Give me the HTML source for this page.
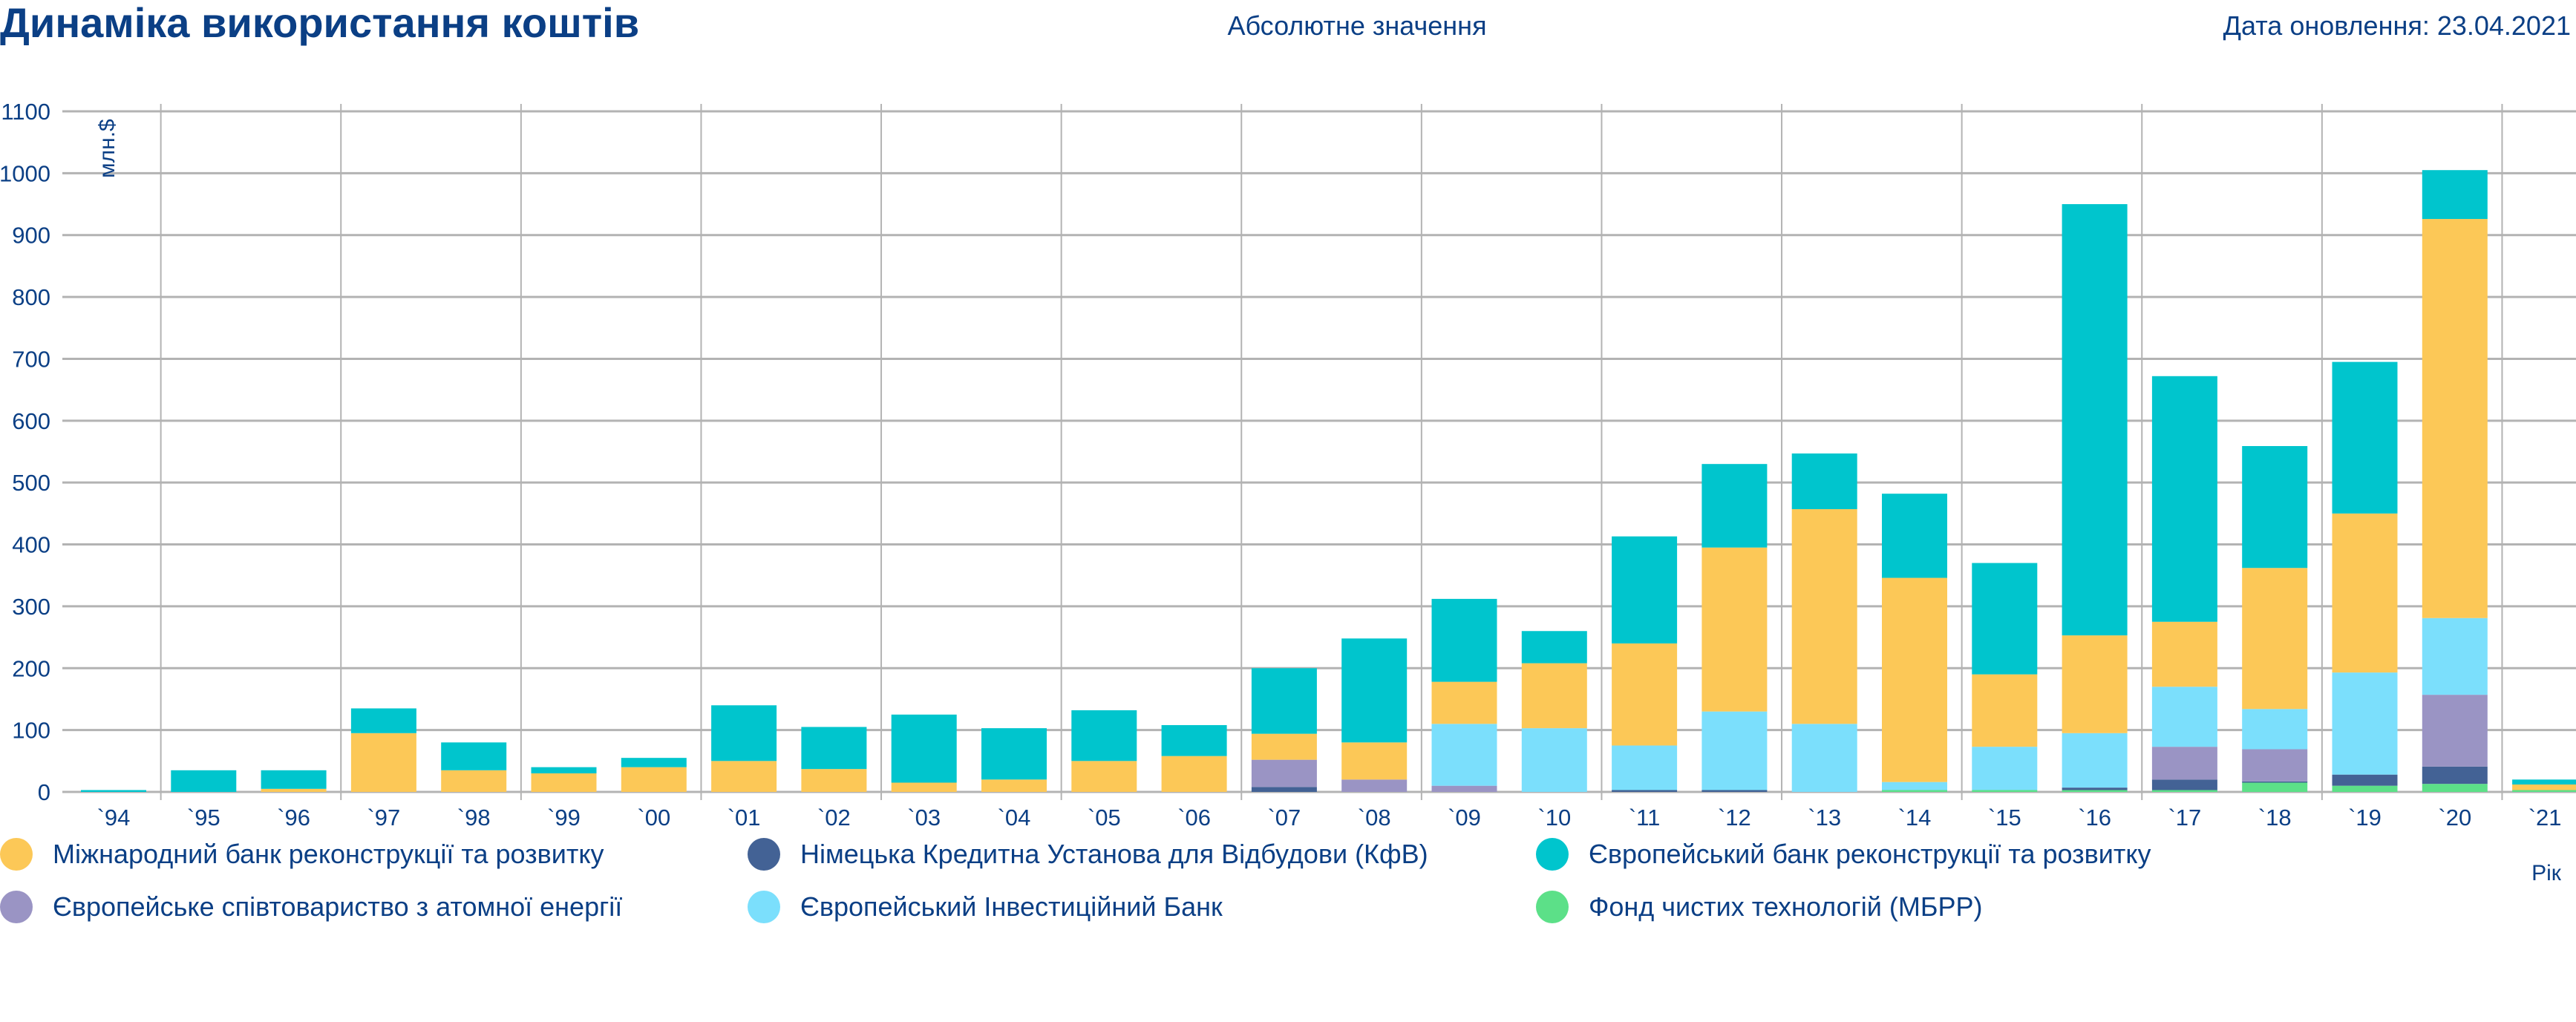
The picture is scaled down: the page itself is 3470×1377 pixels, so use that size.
<!DOCTYPE html>
<html><head><meta charset="utf-8"><style>
html,body{margin:0;padding:0;background:#fff;}
body{width:3470px;height:1372px;overflow:hidden;font-family:"Liberation Sans","Noto Sans CJK SC",sans-serif;}
</style></head><body>
<svg id="chart" width="3470" height="1372" xmlns="http://www.w3.org/2000/svg" font-family="Liberation Sans, Noto Sans CJK SC, sans-serif">
<text x="0" y="50" font-size="56" font-weight="bold" fill="#0b3f85">Динаміка використання коштів</text>
<text x="1828" y="47" font-size="36" fill="#0b3f85" text-anchor="middle">Абсолютне значення</text>
<text x="3463" y="47" font-size="36" fill="#0b3f85" text-anchor="end">Дата оновлення: 23.04.2021</text>
<g id="grid"></g>
<g id="bars"></g>
<g id="axes"></g>
<text transform="translate(154,240) rotate(-90)" font-size="30" fill="#0b3f85">млн.$</text>
<text x="3430" y="1186" font-size="30" fill="#0b3f85" text-anchor="middle">Рік</text>
<g id="legend"></g>
</svg>
<script>
const categories=["`94","`95","`96","`97","`98","`99","`00","`01","`02","`03","`04","`05","`06","`07","`08","`09","`10","`11","`12","`13","`14","`15","`16","`17","`18","`19","`20","`21"];
const seriesNames=["Фонд чистих технологій (МБРР)","Німецька Кредитна Установа для Відбудови (КфВ)","Європейське співтовариство з атомної енергії","Європейський Інвестиційний Банк","Міжнародний банк реконструкції та розвитку","Європейський банк реконструкції та розвитку"];
const seriesColors=["#5ce088","#436295","#9a94c4","#7bdffc","#fcc857","#00c5cd"];
const greenVals =[0,0,0,0,0,0,0,0,0,0,0,0,0,0,0,0,0,0,0,0,3,3,3,3,15,10,13,3];
const kfwVals   =[0,0,0,0,0,0,0,0,0,0,0,0,0,8,0,0,0,3,3,0,0,0,4,17,2,18,28,0];
const euratomVals=[0,0,0,0,0,0,0,0,0,0,0,0,0,44,20,10,0,0,0,0,0,0,0,53,52,0,116,0];
const eibVals   =[0,0,0,0,0,0,0,0,0,0,0,0,0,0,0,100,103,72,127,110,13,70,88,97,65,165,124,0];
const ibrdVals  =[0,0,5,95,35,30,40,50,37,15,20,50,58,42,60,68,105,165,265,347,330,117,158,105,228,257,645,9];
const ebrdVals  =[3,35,30,40,45,10,15,90,68,110,83,82,50,106,168,134,52,173,135,90,136,180,697,397,197,245,79,8];
const yTicks=[0,100,200,300,400,500,600,700,800,900,1000,1100];
const series=[greenVals,kfwVals,euratomVals,eibVals,ibrdVals,ebrdVals];
const NS="http://www.w3.org/2000/svg";
const y0=1067,yTop=150,yMax=1100;
function yScale(v){return y0-(v/yMax)*(y0-yTop);}
const step=121.3,x0=153,barW=88;
function xScale(i){return x0+i*step;}
function mk(tag,attrs,parent){const e=document.createElementNS(NS,tag);for(const k in attrs)e.setAttribute(k,attrs[k]);parent.appendChild(e);return e;}
const grid=document.getElementById('grid'),bars=document.getElementById('bars'),axes=document.getElementById('axes'),legend=document.getElementById('legend');
yTicks.forEach(t=>{
  const l=mk('line',{x1:84,x2:3470,y1:yScale(t),y2:yScale(t),stroke:'#b3b3b3','stroke-width':3},grid);
  
  
  const tx=mk('text',{x:68,y:yScale(t)+11,'font-size':31,fill:'#0b3f85','text-anchor':'end'},axes);
  tx.textContent=t;
  
  
});
for(let i=0;i<categories.length;i+=2){
  const x=(xScale(i)+xScale(i+1))/2+3;
  const l=mk('line',{x1:x,x2:x,y1:140,y2:1078,stroke:'#b3b3b3','stroke-width':2},grid);
  
  
}
categories.forEach((c,i)=>{
  let acc=0;
  series.forEach((s,k)=>{
    const v=s[i];if(!v)return;
    const r=mk('rect',{x:xScale(i)-barW/2,y:yScale(acc+v),width:barW,height:yScale(acc)-yScale(acc+v),fill:seriesColors[k]},bars);
    
    
    acc+=v;
  });
  const t=mk('text',{x:xScale(i),y:1112,'font-size':31,fill:'#0b3f85','text-anchor':'middle'},axes);
  t.textContent=c;
  
  
});
const legendOrder=[4,1,5,2,3,0];
const lx=[22,1029,2091],ly=[1151,1222];
legendOrder.forEach((k,j)=>{
  const col=j%3,row=Math.floor(j/3);
  const g=mk('g',{},legend);
  
  
  mk('circle',{cx:lx[col],cy:ly[row],r:22,fill:seriesColors[k]},g);
  const t=mk('text',{x:lx[col]+49,y:ly[row]+12,'font-size':36,fill:'#0b3f85'},g);
  t.textContent=seriesNames[k];
});
</script>
</body></html>
